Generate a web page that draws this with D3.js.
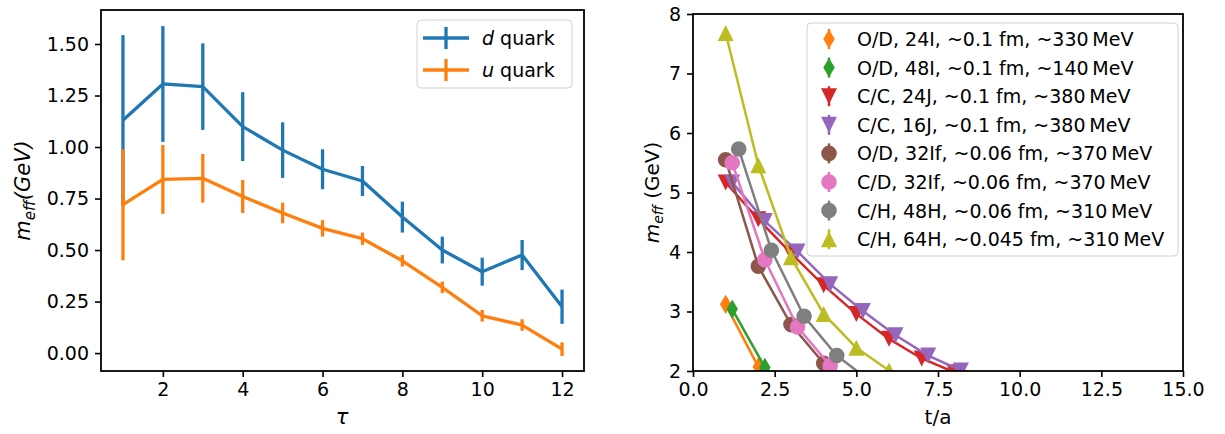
<!DOCTYPE html>
<html>
<head>
<meta charset="utf-8">
<script src="https://cdn.jsdelivr.net/npm/d3@7"></script>
<style>
html,body{margin:0;padding:0;background:#fff;}
svg{display:block;font-family:"DejaVu Sans",sans-serif;}
</style>
</head>
<body>
<svg id="chart" width="1225" height="434"></svg>
<script>
// ---------- Left panel data ----------
const tau = [1,2,3,4,5,6,7,8,9,10,11,12];
const dQuark = [1.13,1.306,1.293,1.099,0.985,0.892,0.835,0.66,0.50,0.395,0.476,0.225];
const dErr   = [0.413,0.281,0.21,0.167,0.135,0.097,0.073,0.075,0.065,0.068,0.073,0.083];
const uQuark = [0.72,0.843,0.848,0.76,0.68,0.605,0.555,0.448,0.319,0.181,0.136,0.019];
const uErr   = [0.27,0.167,0.118,0.08,0.05,0.04,0.03,0.028,0.028,0.028,0.028,0.033];
const leftYTicks = [0,0.25,0.5,0.75,1.0,1.25,1.5];
const leftXTicks = [2,4,6,8,10,12];

// ---------- Right panel data ----------
const labels = [
  "O/D, 24I, ~0.1 fm, ~330\u2009MeV",
  "O/D, 48I, ~0.1 fm, ~140\u2009MeV",
  "C/C, 24J, ~0.1 fm, ~380\u2009MeV",
  "C/C, 16J, ~0.1 fm, ~380\u2009MeV",
  "O/D, 32If, ~0.06 fm, ~370\u2009MeV",
  "C/D, 32If, ~0.06 fm, ~370\u2009MeV",
  "C/H, 48H, ~0.06 fm, ~310\u2009MeV",
  "C/H, 64H, ~0.045 fm, ~310\u2009MeV"
];
const colors = ["#ff7f0e","#2ca02c","#d62728","#9467bd","#8c564b","#e377c2","#7f7f7f","#bcbd22"];
const markers = ["thindiamond","thindiamond","tridown","tridown","circle","circle","circle","triup"];
const t24I  = [1,2];           const m24I  = [3.12,2.07];
const t48I  = [1.2,2.2];       const m48I  = [3.04,2.06];
const t24J  = [1,2,3,4,5,6,7,8];             const m24J  = [5.17,4.55,3.98,3.44,2.96,2.54,2.21,1.98];
const t16J  = [1.2,2.2,3.2,4.2,5.2,6.2,7.2,8.2]; const m16J = [5.17,4.52,4.01,3.46,3.01,2.60,2.26,2.01];
const t32IfOD = [1,2,3,4];             const m32IfOD = [5.55,3.76,2.78,2.13];
const t32IfCD = [1.2,2.2,3.2,4.2];     const m32IfCD = [5.50,3.87,2.74,2.09];
const t48H  = [1.4,2.4,3.4,4.4,5.4];   const m48H  = [5.73,4.03,2.92,2.26,1.84];
const t64H  = [1,2,3,4,5,6];           const m64H  = [7.68,5.46,3.91,2.96,2.39,2.01];
const seriesT = [t24I,t48I,t24J,t16J,t32IfOD,t32IfCD,t48H,t64H];
const seriesM = [m24I,m48I,m24J,m16J,m32IfOD,m32IfCD,m48H,m64H];
const rightXTicks = [0,2.5,5,7.5,10,12.5,15];
const rightYTicks = [2,3,4,5,6,7,8];

const FS = 19;
const svg = d3.select("#chart");

function styleAxis(g){
  g.selectAll("path.domain").remove();
  g.selectAll(".tick line").attr("stroke","#000").attr("stroke-width",1.6);
  g.selectAll(".tick text").attr("fill","#000").style("font-size",FS+"px").style("font-family","DejaVu Sans");
}
function frame(L,R,T,B){
  svg.append("rect").attr("x",L).attr("y",T).attr("width",R-L).attr("height",B-T)
    .attr("fill","none").attr("stroke","#000").attr("stroke-width",1.8);
}

// ================= LEFT PANEL =================
{
  const L=101,R=584,T=10,B=371;
  const x = d3.scaleLinear().domain([0.45,12.55]).range([L,R]);
  const y = d3.scaleLinear().domain([-0.087,1.665]).range([B,T]);

  const gx = svg.append("g").attr("transform",`translate(0,${B})`)
    .call(d3.axisBottom(x).tickValues(leftXTicks).tickSize(6).tickPadding(6).tickFormat(d3.format("d")));
  styleAxis(gx);
  const gy = svg.append("g").attr("transform",`translate(${L},0)`)
    .call(d3.axisLeft(y).tickValues(leftYTicks).tickSize(6).tickPadding(6).tickFormat(d3.format(".2f")));
  styleAxis(gy);

  const line = d3.line().x((d,i)=>x(tau[i])).y(d=>y(d));
  const sets = [[dQuark,dErr,"#1f77b4"],[uQuark,uErr,"#ff7f0e"]];
  sets.forEach(([vals,errs,c])=>{
    const g = svg.append("g");
    g.append("path").datum(vals).attr("d",line).attr("fill","none").attr("stroke",c)
      .attr("stroke-width",3.3).attr("stroke-linejoin","round");
    g.selectAll("line.eb").data(vals).enter().append("line")
      .attr("x1",(d,i)=>x(tau[i])).attr("x2",(d,i)=>x(tau[i]))
      .attr("y1",(d,i)=>y(d-errs[i])).attr("y2",(d,i)=>y(d+errs[i]))
      .attr("stroke",c).attr("stroke-width",3.3);
  });
  frame(L,R,T,B);

  // legend
  const lg = svg.append("g");
  lg.append("rect").attr("x",417).attr("y",20).attr("width",155).attr("height",68).attr("rx",4)
    .attr("fill","#fff").attr("fill-opacity",0.8).attr("stroke","#d0d0d0").attr("stroke-width",1);
  const items=[["d","#1f77b4"],["u","#ff7f0e"]];
  items.forEach(([q,c],i)=>{
    const yy = 38 + i*32;
    lg.append("line").attr("x1",423).attr("x2",469).attr("y1",yy).attr("y2",yy).attr("stroke",c).attr("stroke-width",3.3);
    lg.append("line").attr("x1",446).attr("x2",446).attr("y1",yy-11).attr("y2",yy+11).attr("stroke",c).attr("stroke-width",3.3);
    const t = lg.append("text").attr("x",482).attr("y",yy+7).style("font-size",FS+"px").attr("fill","#000");
    t.append("tspan").style("font-style","italic").text(q);
    t.append("tspan").text(" quark");
  });

  // labels
  svg.append("text").attr("x",342).attr("y",424).attr("text-anchor","middle")
    .style("font-size","21px").style("font-style","italic").text("τ");
  const yl = svg.append("text").attr("transform",`translate(30,${(T+B)/2}) rotate(-90)`)
    .attr("text-anchor","middle").style("font-size","21px").style("font-style","italic");
  yl.append("tspan").text("m");
  yl.append("tspan").attr("dy",4.5).style("font-size","15px").text("eff");
  yl.append("tspan").attr("dy",-4.5).text("(GeV)");
}

// ================= RIGHT PANEL =================
function markerPath(type){
  const s=16;
  if(type==="circle") return d3.symbol(d3.symbolCircle, Math.PI*(7.8*7.8))();
  if(type==="triup") return `M0,${-s/2}L${s/2},${s/2}L${-s/2},${s/2}Z`;
  if(type==="tridown") return `M0,${s/2}L${s/2},${-s/2}L${-s/2},${-s/2}Z`;
  if(type==="thindiamond") return `M0,${-s*0.6}L${s*0.36},0L0,${s*0.6}L${-s*0.36},0Z`;
}
{
  const L=693,R=1183,T=14,B=371;
  const x = d3.scaleLinear().domain([0,15]).range([L,R]);
  const y = d3.scaleLinear().domain([2,8]).range([B,T]);

  const gx = svg.append("g").attr("transform",`translate(0,${B})`)
    .call(d3.axisBottom(x).tickValues(rightXTicks).tickSize(6).tickPadding(6).tickFormat(d3.format(".1f")));
  styleAxis(gx);
  const gy = svg.append("g").attr("transform",`translate(${L},0)`)
    .call(d3.axisLeft(y).tickValues(rightYTicks).tickSize(6).tickPadding(6).tickFormat(d3.format("d")));
  styleAxis(gy);

  svg.append("defs").append("clipPath").attr("id","clipR")
    .append("rect").attr("x",L).attr("y",T).attr("width",R-L).attr("height",B-T);
  const plot = svg.append("g").attr("clip-path","url(#clipR)");

  seriesT.forEach((ts,k)=>{
    const ms = seriesM[k];
    const pts = ts.map((t,i)=>[t,ms[i]]);
    const g = plot.append("g");
    g.append("path").datum(pts)
      .attr("d",d3.line().x(d=>x(d[0])).y(d=>y(d[1])))
      .attr("fill","none").attr("stroke",colors[k]).attr("stroke-width",2.5);
    g.selectAll("line.eb").data(pts).enter().append("line")
      .attr("x1",d=>x(d[0])).attr("x2",d=>x(d[0]))
      .attr("y1",d=>y(d[1])-5).attr("y2",d=>y(d[1])+5)
      .attr("stroke",colors[k]).attr("stroke-width",2.5);
    g.selectAll("path.mk").data(pts).enter().append("path")
      .attr("d",markerPath(markers[k]))
      .attr("transform",d=>`translate(${x(d[0])},${y(d[1])})`)
      .attr("fill",colors[k]);
  });
  frame(L,R,T,B);

  // legend
  const lg = svg.append("g");
  lg.append("rect").attr("x",807).attr("y",23).attr("width",371).attr("height",233).attr("rx",4)
    .attr("fill","#fff").attr("fill-opacity",0.8).attr("stroke","#d0d0d0").attr("stroke-width",1);
  labels.forEach((lab,k)=>{
    const yy = 39 + k*28.6;
    lg.append("line").attr("x1",829).attr("x2",829).attr("y1",yy-10).attr("y2",yy+10)
      .attr("stroke",colors[k]).attr("stroke-width",2.5);
    lg.append("path").attr("d",markerPath(markers[k])).attr("transform",`translate(829,${yy})`).attr("fill",colors[k]);
    lg.append("text").attr("x",857).attr("y",yy+7).style("font-size",FS+"px").attr("fill","#000").text(lab);
  });

  svg.append("text").attr("x",938).attr("y",424).attr("text-anchor","middle")
    .style("font-size","20px").text("t/a");
  const yl = svg.append("text").attr("transform",`translate(659,${(T+B)/2}) rotate(-90)`)
    .attr("text-anchor","middle").style("font-size","20px");
  yl.append("tspan").style("font-style","italic").text("m");
  yl.append("tspan").attr("dy",4).style("font-style","italic").style("font-size","14px").text("eff");
  yl.append("tspan").attr("dy",-4).text(" (GeV)");
}
</script>
</body>
</html>
